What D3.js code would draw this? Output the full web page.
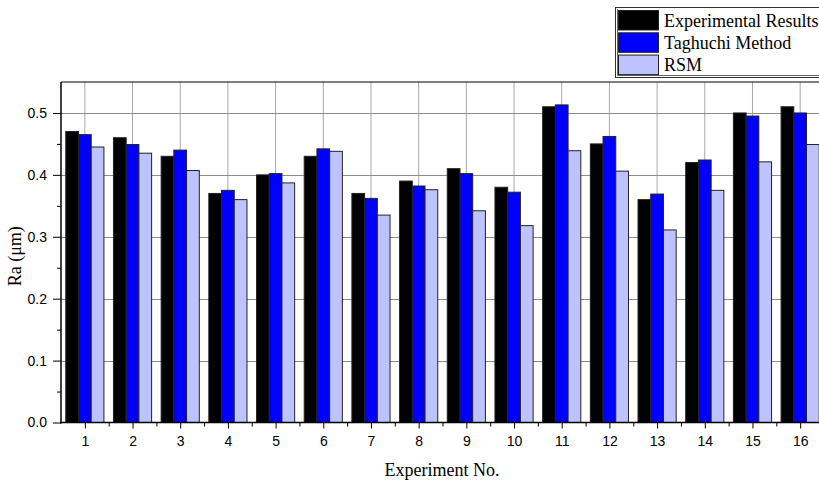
<!DOCTYPE html>
<html>
<head>
<meta charset="utf-8">
<script src="https://cdn.jsdelivr.net/npm/d3@7"></script>
<style>
  html, body { margin: 0; padding: 0; background: #fff; }
  svg { display: block; }
</style>
</head>
<body>
<svg id="chart" width="819" height="483"></svg>
<script>
// Surface roughness Ra per experiment: measured vs. two model predictions
const experiments = d3.range(1, 17);
const seriesNames = ["Experimental Results", "Taghuchi Method", "RSM"];
const experimental = [0.47, 0.46, 0.43, 0.37, 0.40, 0.43, 0.37, 0.39, 0.41, 0.38, 0.51, 0.45, 0.36, 0.42, 0.50, 0.51];
const taguchi      = [0.465, 0.449, 0.44, 0.375, 0.402, 0.442, 0.362, 0.382, 0.402, 0.372, 0.513, 0.462, 0.369, 0.424, 0.495, 0.50];
const rsm          = [0.445, 0.435, 0.407, 0.36, 0.387, 0.438, 0.335, 0.376, 0.342, 0.318, 0.439, 0.406, 0.311, 0.375, 0.421, 0.449];
const yTicks = [0.0, 0.1, 0.2, 0.3, 0.4, 0.5];
const colors = ["#000000", "#0000ff", "#bec3ff"];

const series = [experimental, taguchi, rsm];

const svg = d3.select("#chart");
const plotL = 61, plotR = 824, plotT = 82, plotB = 422.5;

const x = d3.scaleLinear().domain([0.5, 16.5]).range([plotL, plotR]);
const y = d3.scaleLinear().domain([0, 0.55]).range([plotB, plotT]);

const step = x(2) - x(1);
const groupW = step * 0.8;
const xb = d3.scaleBand().domain(d3.range(3)).range([-groupW / 2, groupW / 2]).padding(0);

const sans = "Liberation Sans, Arial, sans-serif";
const serif = "Liberation Serif, Times New Roman, serif";

// grid
const grid = svg.append("g");
grid.selectAll("line.v").data(experiments).join("line")
  .attr("x1", d => x(d)).attr("x2", d => x(d))
  .attr("y1", plotT).attr("y2", plotB)
  .attr("stroke", "#a8a8a8").attr("stroke-width", 1);
grid.selectAll("line.h").data(yTicks.slice(1)).join("line")
  .attr("x1", plotL).attr("x2", plotR)
  .attr("y1", d => Math.round(y(d)) + 0.5).attr("y2", d => Math.round(y(d)) + 0.5)
  .attr("stroke", "#8c8c8c").attr("stroke-width", 1);

// bars
const bars = svg.append("g");
series.forEach((vals, si) => {
  bars.selectAll(null).data(vals).join("rect")
    .attr("x", (d, i) => x(experiments[i]) + xb(si))
    .attr("y", d => y(d))
    .attr("width", xb.bandwidth())
    .attr("height", d => y(0) - y(d))
    .attr("fill", colors[si])
    .attr("stroke", "#222")
    .attr("stroke-width", 1);
});

// frame top
svg.append("line").attr("x1", plotL).attr("x2", plotR).attr("y1", plotT).attr("y2", plotT)
  .attr("stroke", "#000").attr("stroke-width", 1);

// y axis
const yAxis = d3.axisLeft(y).tickValues(yTicks).tickSize(8).tickPadding(6)
  .tickFormat(d3.format(".1f"));
const gy = svg.append("g").attr("transform", `translate(${plotL},0)`).call(yAxis);
gy.selectAll(".tick line").attr("stroke", "#000");
gy.select(".domain").attr("stroke", "#000").attr("stroke-width", 1.5)
  .attr("d", `M0,${plotT}V${plotB + 1}`);
gy.selectAll(".tick text").attr("font-family", sans)
  .attr("font-size", 14).attr("fill", "#000");
const yMinor = d3.axisLeft(y).tickValues(d3.range(0.05, 0.55, 0.1)).tickSize(4).tickFormat("");
const gym = svg.append("g").attr("transform", `translate(${plotL},0)`).call(yMinor);
gym.select(".domain").remove();
gym.selectAll(".tick line").attr("stroke", "#000");

// x axis
const xAxis = d3.axisBottom(x).tickValues(experiments).tickSize(6).tickPadding(8)
  .tickFormat(d3.format("d"));
const gx = svg.append("g").attr("transform", `translate(0,${plotB})`).call(xAxis);
gx.select(".domain").attr("stroke", "#000").attr("stroke-width", 1.5)
  .attr("d", `M${plotL - 1},0H${plotR}`);
gx.selectAll(".tick line").attr("stroke", "#000");
gx.selectAll(".tick text").attr("font-family", sans)
  .attr("font-size", 14).attr("fill", "#000");
const xMinor = d3.axisBottom(x).tickValues(experiments.map(d => d + 0.5)).tickSize(4).tickFormat("");
const gxm = svg.append("g").attr("transform", `translate(0,${plotB})`).call(xMinor);
gxm.select(".domain").remove();
gxm.selectAll(".tick line").attr("stroke", "#000");

// axis titles
svg.append("text").attr("x", 442).attr("y", 476)
  .attr("text-anchor", "middle")
  .attr("font-family", serif).attr("font-size", 18)
  .text("Experiment No.");
svg.append("text").attr("transform", `translate(21,${(plotT + plotB) / 2 + 4}) rotate(-90)`)
  .attr("text-anchor", "middle")
  .attr("font-family", serif).attr("font-size", 18)
  .text("Ra (μm)");

// legend
const lg = svg.append("g");
lg.append("rect").attr("x", 615.5).attr("y", 7.5).attr("width", 220).attr("height", 70)
  .attr("fill", "#fff").attr("stroke", "#333").attr("stroke-width", 1);
lg.append("path").attr("d", "M617.5,9V75.5H830").attr("fill", "none")
  .attr("stroke", "#666").attr("stroke-width", 1);
seriesNames.forEach((name, i) => {
  const yy = 10.5 + i * 22.3;
  lg.append("rect").attr("x", 618.5).attr("y", yy).attr("width", 40).attr("height", 19.5)
    .attr("fill", colors[i]).attr("stroke", "#222").attr("stroke-width", 1);
  lg.append("text").attr("x", 664).attr("y", yy + 16)
    .attr("font-family", serif).attr("font-size", 18)
    .text(name);
});
</script>
</body>
</html>
